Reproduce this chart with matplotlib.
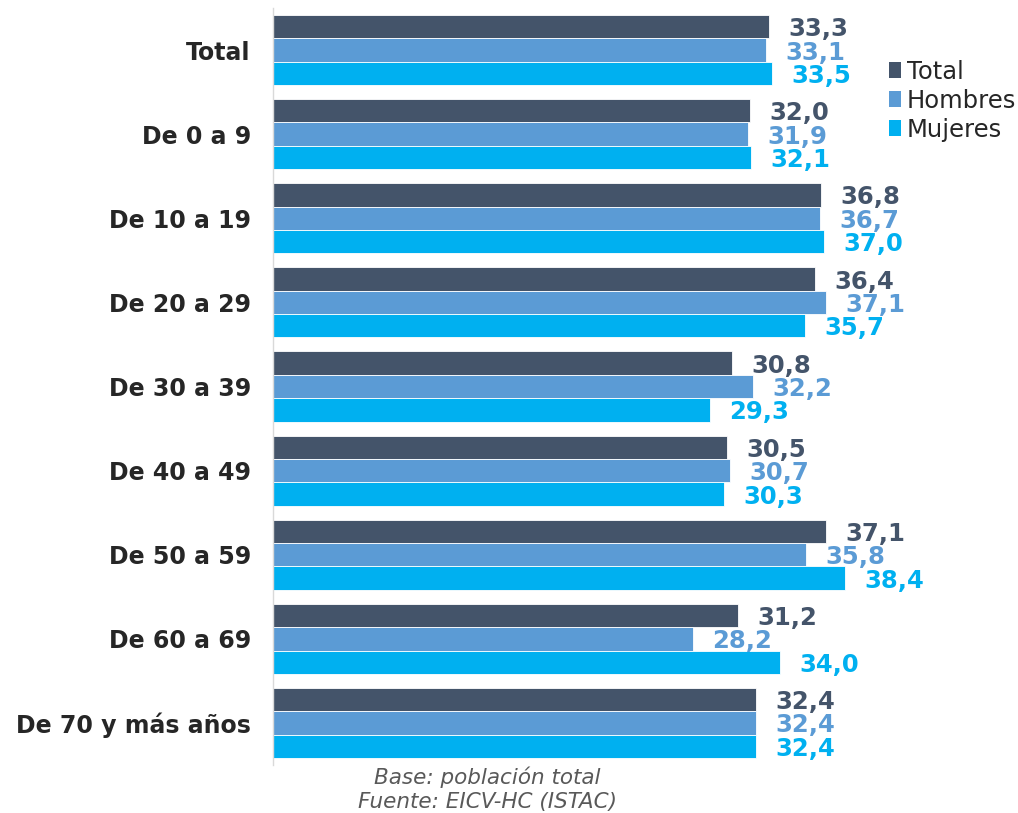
import matplotlib
matplotlib.use("Agg")
import matplotlib.pyplot as plt
import numpy as np
from matplotlib.patches import Patch

categories = ["Total", "De 0 a 9", "De 10 a 19", "De 20 a 29", "De 30 a 39",
              "De 40 a 49", "De 50 a 59", "De 60 a 69", "De 70 y más años"]
total = [33.3, 32.0, 36.8, 36.4, 30.8, 30.5, 37.1, 31.2, 32.4]
hombres = [33.1, 31.9, 36.7, 37.1, 32.2, 30.7, 35.8, 28.2, 32.4]
mujeres = [33.5, 32.1, 37.0, 35.7, 29.3, 30.3, 38.4, 34.0, 32.4]
series_names = ["Total", "Hombres", "Mujeres"]
colors = ["#44546A", "#5B9BD5", "#00B0F0"]

W, H = 1018, 813
fig = plt.figure(figsize=(W / 100, H / 100), dpi=100)
ax = fig.add_axes([273 / W, 1 - 765 / H, (W - 273) / W, (765 - 8) / H])

n = len(categories)
bh = 0.278
y = np.arange(n)
series = [total, hombres, mujeres]
for k, (vals, c) in enumerate(zip(series, colors)):
    pos = y + (k - 1) * bh
    ax.barh(pos, vals, height=bh, color=c, edgecolor="white", linewidth=0.6)
    for p, v in zip(pos, vals):
        ax.text(v + 1.3, p + 0.03, f"{v:.1f}".replace(".", ","), va="center", ha="left",
                fontsize=17.5, fontweight="bold", color=c, family="DejaVu Sans")

ax.set_xlim(0, 50)
ax.set_ylim(n - 0.5, -0.5)
ax.set_yticks(y)
ax.set_yticklabels(categories, fontsize=17, fontweight="bold", color="#262626")
ax.tick_params(axis="y", length=0, pad=16)
ax.set_xticks([])
for s in ["top", "right", "bottom"]:
    ax.spines[s].set_visible(False)
ax.spines["left"].set_color("#D9D9D9")
ax.spines["left"].set_linewidth(1)

handles = [Patch(facecolor=c, label=l) for c, l in zip(colors, series_names)]
fig.legend(handles=handles, loc="upper left", bbox_to_anchor=(867 / W, 1 - 38 / H),
           frameon=False, fontsize=17.5, handlelength=0.5, handleheight=0.65,
           handletextpad=0.25, labelspacing=0.2, labelcolor="#262626")

fig.text(487 / W, 1 - 777 / H, "Base: población total", ha="center", va="center",
         fontsize=15.5, style="italic", color="#595959")
fig.text(487 / W, 1 - 802 / H, "Fuente: EICV-HC (ISTAC)", ha="center", va="center",
         fontsize=15.5, style="italic", color="#595959")

fig.savefig("out.png", dpi=100)
